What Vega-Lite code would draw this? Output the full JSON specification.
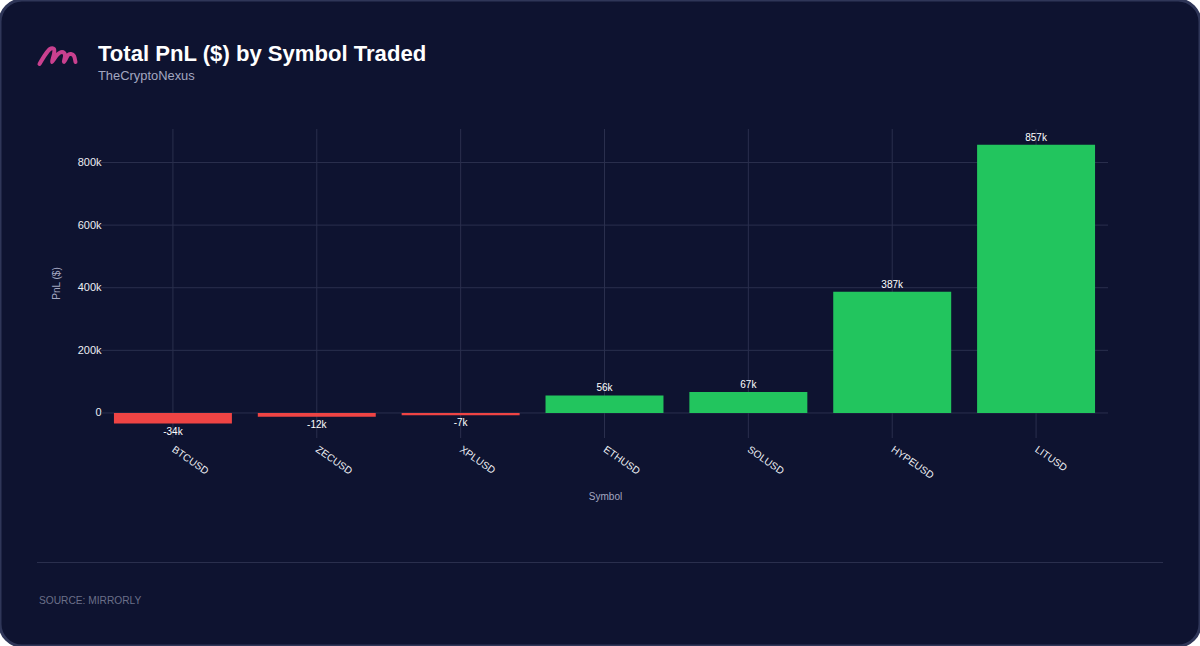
{
"$schema":"https://vega.github.io/schema/vega-lite/v6.json",
"width":1200,"height":646,"autosize":"none","padding":0,"background":"#ffffff",
"view":{"fill":"#0e1330","stroke":"#2f3658","strokeWidth":3,"cornerRadius":22},
"config":{"font":"Liberation Sans"},
"title":{"text":"Total PnL ($) by Symbol Traded","subtitle":"TheCryptoNexus","anchor":"start","frame":"group","dx":98,"offset":-84,"font":"Liberation Sans","fontSize":22.1,"fontWeight":"bold","color":"#ffffff","subtitleFont":"Liberation Sans","subtitleFontSize":12.9,"subtitleColor":"#a3a7c0","subtitlePadding":4},
"datasets":{
"pnl":[{"symbol":"BTCUSD","pnl":-34000,"label":"-34k"},{"symbol":"ZECUSD","pnl":-12000,"label":"-12k"},{"symbol":"XPLUSD","pnl":-7000,"label":"-7k"},{"symbol":"ETHUSD","pnl":56000,"label":"56k"},{"symbol":"SOLUSD","pnl":67000,"label":"67k"},{"symbol":"HYPEUSD","pnl":387000,"label":"387k"},{"symbol":"LITUSD","pnl":857000,"label":"857k"}],
"ticks":[{"tick":0},{"tick":200000},{"tick":400000},{"tick":600000},{"tick":800000}],
"logo":[{"i":1,"px":39.5,"py":64},{"i":2,"px":45,"py":55},{"i":3,"px":50,"py":49},{"i":4,"px":54,"py":49},{"i":5,"px":54,"py":54},{"i":6,"px":52,"py":62},{"i":7,"px":57,"py":55},{"i":8,"px":62,"py":52},{"i":9,"px":65,"py":55},{"i":10,"px":64,"py":62},{"i":11,"px":68,"py":55},{"i":12,"px":71,"py":54},{"i":13,"px":74,"py":56},{"i":14,"px":75.5,"py":62}],
"divider":[{"x0":37,"x1":1163,"py":562.5}],
"source":[{"px":39,"py":601,"text":"SOURCE: MIRRORLY"}]
},
"layer":[
{"data":{"name":"ticks"},"mark":{"type":"rule","color":"#2a2f4d","strokeWidth":1},
 "encoding":{
  "x":{"datum":0,"type":"quantitative","scale":{"domain":[0,1],"range":[101,1108]},"axis":null},
  "x2":{"datum":1},
  "y":{"field":"tick","type":"quantitative","scale":{"domain":[-80000,907000],"range":[438,129],"nice":false,"zero":false},"axis":null}}},
{"data":{"name":"pnl"},
 "encoding":{
  "x":{"field":"symbol","type":"nominal","sort":null,"scale":{"range":[101,1108],"paddingInner":0.18,"paddingOuter":0.09},
   "axis":{"title":"Symbol","offset":-208,"domain":false,"ticks":false,"grid":false,"labelAngle":35,"labelAlign":"left","labelBaseline":"middle","labelPadding":10,"labelFontSize":10.2,"labelColor":"#eceef3","titleFontSize":10,"titleFontWeight":"normal","titleColor":"#a3a7c0","titleX":605,"titleY":53}},
  "y":{"field":"pnl","type":"quantitative","scale":{"domain":[-80000,907000],"range":[438,129],"nice":false,"zero":false},
   "axis":{"title":"PnL ($)","offset":-101,"domain":false,"ticks":false,"grid":false,"values":[0,200000,400000,600000,800000],"labelExpr":"datum.value === 0 ? '0' : format(datum.value, '~s')","labelPadding":0,"labelFontSize":11,"labelColor":"#eceef3","titleFontSize":10,"titleFontWeight":"normal","titleColor":"#a3a7c0","titleX":-40,"titleY":283}}},
 "layer":[
  {"mark":{"type":"rule","color":"#2a2f4d","strokeWidth":1},"encoding":{"y":{"datum":-80000},"y2":{"datum":907000}}},
  {"mark":{"type":"bar","stroke":null},"encoding":{"color":{"condition":{"test":"datum.pnl<0","value":"#ef4444"},"value":"#22c55e"}}},
  {"transform":[{"filter":"datum.pnl>=0"}],"mark":{"type":"text","baseline":"bottom","dy":-2,"fontSize":10,"color":"#ffffff"},"encoding":{"text":{"field":"label"}}},
  {"transform":[{"filter":"datum.pnl<0"}],"mark":{"type":"text","baseline":"top","dy":3,"fontSize":10,"color":"#ffffff"},"encoding":{"text":{"field":"label"}}}
 ]},
{"data":{"name":"divider"},"mark":{"type":"rule","color":"#2a2f4d","strokeWidth":1},
 "encoding":{
  "x":{"field":"x0","type":"quantitative","scale":{"domain":[0,1200],"range":[0,1200]},"axis":null},"x2":{"field":"x1"},
  "y":{"field":"py","type":"quantitative","scale":{"domain":[0,646],"range":[0,646],"zero":false},"axis":null}}},
{"data":{"name":"logo"},"mark":{"type":"line","interpolate":"cardinal","color":"#c9408f","strokeWidth":4,"strokeCap":"round"},
 "encoding":{
  "x":{"field":"px","type":"quantitative","scale":{"domain":[0,1200],"range":[0,1200]},"axis":null},
  "y":{"field":"py","type":"quantitative","scale":{"domain":[0,646],"range":[0,646],"zero":false},"axis":null},
  "order":{"field":"i"}}},
{"data":{"name":"source"},"mark":{"type":"text","align":"left","baseline":"middle","fontSize":10.2,"color":"#6b7089"},
 "encoding":{
  "x":{"field":"px","type":"quantitative","scale":{"domain":[0,1200],"range":[0,1200]},"axis":null},
  "y":{"field":"py","type":"quantitative","scale":{"domain":[0,646],"range":[0,646],"zero":false},"axis":null},
  "text":{"field":"text"}}}
],
"resolve":{"scale":{"x":"independent","y":"independent"}}
}
